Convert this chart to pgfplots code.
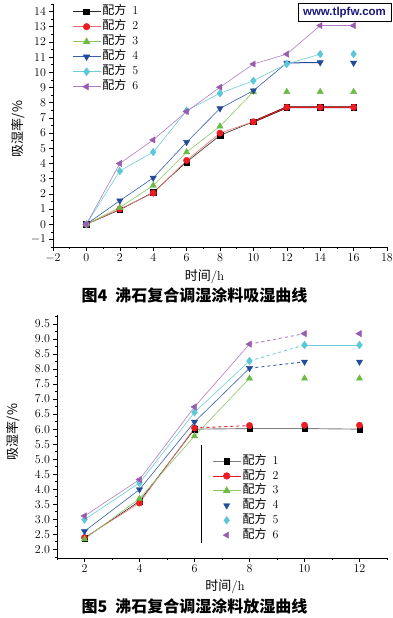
\documentclass[border=0pt]{standalone}
\usepackage{fontspec}
\usepackage{pgfplots}
\usepackage{pgfplotstable}
\pgfplotsset{compat=1.18}
\newfontfamily\cjk{Noto Sans CJK SC}
\newfontfamily\wm{Liberation Sans}
\definecolor{cA}{RGB}{0,0,0}
\definecolor{cB}{RGB}{237,28,36}
\definecolor{cC}{RGB}{108,186,70}
\definecolor{cD}{RGB}{35,75,155}
\definecolor{cE}{RGB}{92,200,215}
\definecolor{cF}{RGB}{152,92,172}
\definecolor{lA}{RGB}{40,40,40}
\definecolor{lB}{RGB}{240,110,110}
\definecolor{lC}{RGB}{140,200,100}
\definecolor{lD}{RGB}{55,95,170}
\definecolor{lE}{RGB}{110,205,220}
\definecolor{lF}{RGB}{175,125,195}
\definecolor{wmblue}{RGB}{25,25,125}

\pgfplotstableread{
x s1 s2 s3 s4 s5 s6
0 0 0 0 0 0 0
2 0.95 1.0 1.1 1.55 3.5 4.0
4 2.1 2.05 2.55 3.05 4.75 5.55
6 4.1 4.2 4.75 5.4 7.48 7.42
8 5.85 6.0 6.45 7.62 8.62 9.02
10 6.75 6.75 8.72 8.8 9.45 10.55
12 7.7 7.7 8.72 10.62 10.55 11.2
14 7.7 7.7 8.72 10.65 11.2 13.08
16 7.7 7.7 8.72 10.62 11.2 13.08
}\absorb

\pgfplotstableread{
x s1 s2 s3 s4 s5 s6
2 2.37 2.39 2.34 2.6 2.99 3.11
4 3.6 3.54 3.69 3.99 4.21 4.32
6 6.0 6.04 5.77 6.24 6.56 6.74
8 6.02 6.12 7.69 8.03 8.27 8.83
10 6.02 6.13 7.69 8.24 8.8 9.18
12 6.0 6.13 7.69 8.24 8.8 9.18
}\desorb

\pgfplotsset{
  mA/.style={mark=square*, mark size=2.8pt, mark options={solid, fill=cA, draw=cA}},
  mB/.style={mark=*, mark size=3.2pt, mark options={solid, fill=cB, draw=cB}},
  mC/.style={mark=triangle*, mark size=3.6pt, mark options={solid, fill=cC, draw=cC}},
  mD/.style={mark=triangle*, mark size=3.6pt, mark options={solid, rotate=180, fill=cD, draw=cD}},
  mE/.style={mark=diamond*, mark size=3.8pt, mark options={solid, fill=cE, draw=cE}},
  mF/.style={mark=triangle*, mark size=3.6pt, mark options={solid, rotate=90, fill=cF, draw=cF}},
  base/.style={
    scale only axis, anchor=south west,
    axis x line*=bottom, axis y line*=left,
    axis line style={-, line width=0.8pt},
    every outer x axis line/.append style={-},
    every outer y axis line/.append style={-},
    tick align=outside,
    major tick length=3.5pt, minor tick length=2pt,
    tick style={black, line width=0.6pt},
    tick label style={font=\fontsize{12.6}{13}\selectfont},
    legend cell align=left,
    legend image code/.code={\draw[mark repeat=2,mark phase=2] plot coordinates {(0pt,0pt)(14pt,0pt)(28pt,0pt)};},
  },
}

\begin{document}
\begin{tikzpicture}
\path[use as bounding box] (0pt,0pt) rectangle (392pt,-618pt);

% ---------------- Figure 4 ----------------
\begin{axis}[base,
  at={(53pt,-247pt)}, width=334pt, height=243pt,
  xmin=-2, xmax=18, ymin=-1.5, ymax=14.5,
  xtick={-2,0,...,18}, ytick={-1,0,...,14},
  minor xtick={-1,1,...,17}, minor ytick={-1.5,-0.5,...,14.5},
  legend style={at={(0.057,1)}, anchor=north west, draw=none, fill=none, inner sep=0pt,
    font=\fontsize{12}{12}\selectfont, row sep=0pt,
    nodes={text height=9pt, text depth=3pt, inner sep=1.5pt}},
]
\addlegendimage{lA, line width=0.7pt, mA}
\addlegendentry{{\cjk 配方}\hspace{6pt}1}
\addlegendimage{lB, line width=0.7pt, mB}
\addlegendentry{{\cjk 配方}\hspace{6pt}2}
\addlegendimage{lC, line width=0.7pt, mC}
\addlegendentry{{\cjk 配方}\hspace{6pt}3}
\addlegendimage{lD, line width=0.7pt, mD}
\addlegendentry{{\cjk 配方}\hspace{6pt}4}
\addlegendimage{lE, line width=0.7pt, mE}
\addlegendentry{{\cjk 配方}\hspace{6pt}5}
\addlegendimage{lF, line width=0.7pt, mF}
\addlegendentry{{\cjk 配方}\hspace{6pt}6}
% lines
\addplot[lA, line width=0.6pt, forget plot] table[x=x, y=s1, restrict x to domain=0:10]{\absorb};
\addplot[cA, line width=1.8pt, forget plot] table[x=x, y=s1, restrict x to domain=10:16]{\absorb};
\addplot[lB, line width=0.6pt, forget plot] table[x=x, y=s2, restrict x to domain=0:10]{\absorb};
\addplot[cB, line width=1.1pt, forget plot] table[x=x, y=s2, restrict x to domain=10:16]{\absorb};
\addplot[lC, line width=0.6pt, forget plot] table[x=x, y=s3, restrict x to domain=0:10]{\absorb};
\addplot[lD, line width=0.6pt, forget plot] table[x=x, y=s4, restrict x to domain=0:12]{\absorb};
\addplot[cD, line width=1.0pt, forget plot] table[x=x, y=s4, restrict x to domain=12:14]{\absorb};
\addplot[lE, line width=0.6pt, forget plot] table[x=x, y=s5, restrict x to domain=0:14]{\absorb};
\addplot[lF, line width=0.6pt, forget plot] table[x=x, y=s6, restrict x to domain=0:14]{\absorb};
\addplot[lF, line width=1.0pt, forget plot] table[x=x, y=s6, restrict x to domain=14:16]{\absorb};
% marks
\addplot[only marks, mA, forget plot] table[x=x, y=s1]{\absorb};
\addplot[only marks, mB, forget plot] table[x=x, y=s2]{\absorb};
\addplot[only marks, mC, forget plot] table[x=x, y=s3]{\absorb};
\addplot[only marks, mD, forget plot] table[x=x, y=s4]{\absorb};
\addplot[only marks, mE, forget plot] table[x=x, y=s5]{\absorb};
\addplot[only marks, mF, forget plot] table[x=x, y=s6]{\absorb};
\end{axis}

\node[rotate=90, font=\cjk\fontsize{13}{13}\selectfont] at (18.5pt,-129pt) {吸湿率/\%};
\node[font=\fontsize{13}{13}\selectfont] at (204.5pt,-277pt) {{\cjk 时间}/h};
\node[font=\cjk\bfseries\fontsize{16}{16}\selectfont] at (194.5pt,-295pt) {图4\hspace{8pt}沸石复合调湿涂料吸湿曲线};
\node[draw=black, line width=0.8pt, fill=white, inner sep=0pt, minimum width=93pt, minimum height=18.5pt,
  font=\wm\bfseries\fontsize{11.5}{12}\selectfont, text=wmblue] at (344.5pt,-12.5pt) {www.tlpfw.com};

% ---------------- Figure 5 ----------------
\begin{axis}[base,
  at={(57pt,-558pt)}, width=330pt, height=243pt,
  xmin=1, xmax=13, ymin=1.71, ymax=9.8,
  xtick={2,4,...,12}, ytick={2.0,2.5,...,9.5},
  minor xtick={1,3,...,13}, minor ytick={1.75,2.25,...,9.75},
  yticklabel style={/pgf/number format/.cd, fixed, fixed zerofill, precision=1},
  legend style={at={(0.47,0.43)}, anchor=north west, draw=none, fill=none, inner sep=0pt,
    font=\fontsize{12}{12}\selectfont, row sep=0pt,
    nodes={text height=9pt, text depth=2.8pt, inner sep=1.5pt}},
]
\addlegendimage{gray, line width=0.8pt, mA}
\addlegendentry{{\cjk 配方}\hspace{6pt}1}
\addlegendimage{cB, line width=0.8pt, mB}
\addlegendentry{{\cjk 配方}\hspace{6pt}2}
\addlegendimage{lC, line width=0.8pt, mC}
\addlegendentry{{\cjk 配方}\hspace{6pt}3}
\addlegendimage{only marks, mD}
\addlegendentry{{\cjk 配方}\hspace{6pt}4}
\addlegendimage{only marks, mE}
\addlegendentry{{\cjk 配方}\hspace{6pt}5}
\addlegendimage{only marks, mF}
\addlegendentry{{\cjk 配方}\hspace{6pt}6}
% lines
\addplot[lA, line width=0.6pt, forget plot] table[x=x, y=s1, restrict x to domain=2:6]{\desorb};
\addplot[gray, line width=0.9pt, forget plot] table[x=x, y=s1, restrict x to domain=6:12]{\desorb};
\addplot[lB, line width=0.6pt, forget plot] table[x=x, y=s2, restrict x to domain=2:6]{\desorb};
\addplot[cB, line width=0.9pt, dashed, forget plot] table[x=x, y=s2, restrict x to domain=6:8]{\desorb};
\addplot[lC, line width=0.6pt, forget plot] table[x=x, y=s3, restrict x to domain=2:8]{\desorb};
\addplot[lD, line width=0.6pt, forget plot] table[x=x, y=s4, restrict x to domain=2:8]{\desorb};
\addplot[lD, line width=0.9pt, dashed, forget plot] table[x=x, y=s4, restrict x to domain=8:10]{\desorb};
\addplot[lE, line width=0.6pt, forget plot] table[x=x, y=s5, restrict x to domain=2:8]{\desorb};
\addplot[lE, line width=0.9pt, dashed, forget plot] table[x=x, y=s5, restrict x to domain=8:10]{\desorb};
\addplot[lE, line width=0.9pt, forget plot] table[x=x, y=s5, restrict x to domain=10:12]{\desorb};
\addplot[lF, line width=0.6pt, forget plot] table[x=x, y=s6, restrict x to domain=2:8]{\desorb};
\addplot[lF, line width=0.9pt, dashed, forget plot] table[x=x, y=s6, restrict x to domain=8:10]{\desorb};
% marks
\addplot[only marks, mA, forget plot] table[x=x, y=s1]{\desorb};
\addplot[only marks, mB, forget plot] table[x=x, y=s2]{\desorb};
\addplot[only marks, mC, forget plot] table[x=x, y=s3]{\desorb};
\addplot[only marks, mD, forget plot] table[x=x, y=s4]{\desorb};
\addplot[only marks, mE, forget plot] table[x=x, y=s5]{\desorb};
\addplot[only marks, mF, forget plot] table[x=x, y=s6]{\desorb};
\end{axis}

\draw[black, line width=0.8pt] (201.5pt,-445pt) -- (201.5pt,-543pt);
\node[rotate=90, font=\cjk\fontsize{13}{13}\selectfont] at (13pt,-432pt) {吸湿率/\%};
\node[font=\fontsize{13}{13}\selectfont] at (225pt,-587pt) {{\cjk 时间}/h};
\node[font=\cjk\bfseries\fontsize{16}{16}\selectfont] at (194.5pt,-606.5pt) {图5\hspace{8pt}沸石复合调湿涂料放湿曲线};
\end{tikzpicture}
\end{document}
